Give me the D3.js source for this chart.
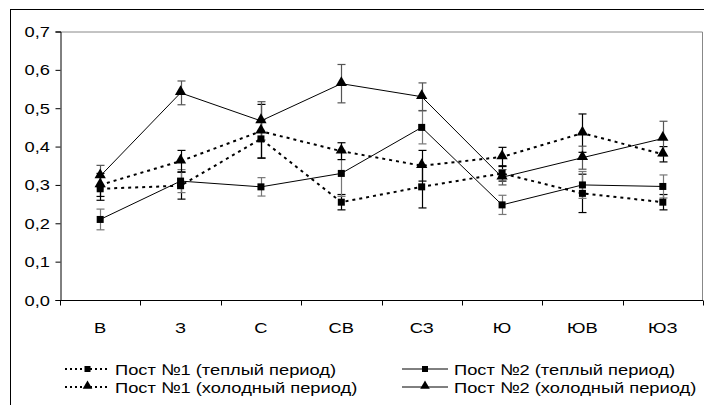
<!DOCTYPE html>
<html>
<head>
<meta charset="utf-8">
<script src="https://cdn.jsdelivr.net/npm/d3@7"></script>
<style>
  body { margin: 0; background: #fff; }
  text { font-family: "Liberation Sans", Arial, sans-serif; font-size: 15.5px; fill: #000; }
</style>
</head>
<body>
<div id="chart"></div>
<script>
// Categories (wind directions) and tick values
var categories = ["В", "З", "С", "СВ", "СЗ", "Ю", "ЮВ", "ЮЗ"];
var yTicks = [0, 0.1, 0.2, 0.3, 0.4, 0.5, 0.6, 0.7];

// Series values and error bar half-lengths
var post1Warm = [0.29, 0.298, 0.42, 0.255, 0.295, 0.33, 0.278, 0.255];
var post1WarmErr = [0.03, 0.035, 0.05, 0.02, 0.055, 0.02, 0.05, 0.02];
var post1Cold = [0.30, 0.362, 0.44, 0.388, 0.35, 0.373, 0.435, 0.38];
var post1ColdErr = [0.03, 0.028, 0.07, 0.022, 0.04, 0.025, 0.05, 0.02];
var post2Warm = [0.21, 0.31, 0.295, 0.33, 0.45, 0.248, 0.30, 0.296];
var post2WarmErr = [0.027, 0.03, 0.024, 0.06, 0.043, 0.025, 0.035, 0.03];
var post2Cold = [0.323, 0.54, 0.467, 0.564, 0.53, 0.32, 0.371, 0.421];
var post2ColdErr = [0.028, 0.031, 0.05, 0.05, 0.036, 0.02, 0.03, 0.045];

var seriesNames = [
  "Пост №1 (теплый период)",
  "Пост №2 (теплый период)",
  "Пост №1 (холодный период)",
  "Пост №2 (холодный период)"
];

var series = [
  { name: seriesNames[0], values: post1Warm, err: post1WarmErr, marker: "square", dotted: true, errColor: "#000" },
  { name: seriesNames[1], values: post2Warm, err: post2WarmErr, marker: "square", dotted: false, errColor: "#777" },
  { name: seriesNames[2], values: post1Cold, err: post1ColdErr, marker: "triangle", dotted: true, errColor: "#000" },
  { name: seriesNames[3], values: post2Cold, err: post2ColdErr, marker: "triangle", dotted: false, errColor: "#555" }
];

var W = 704, H = 405;
var margin = { top: 31.5, right: 1, bottom: 105, left: 60 };
var width = W - margin.left - margin.right;
var height = H - margin.top - margin.bottom;
var stretch = 1.18; // text in the picture is a bit wider than it is tall

var svg = d3.select("#chart")
  .append("svg")
  .attr("width", W)
  .attr("height", H);

// stretched text helper
function label(sel, txt, px, py, anchor) {
  return sel.append("text")
    .attr("transform", "translate(" + px + "," + py + ") scale(" + stretch + ",1)")
    .attr("text-anchor", anchor || "start")
    .text(txt);
}

// Outer chart frame
svg.append("rect")
  .attr("x", 10.5).attr("y", 9.5)
  .attr("width", W + 20).attr("height", H + 20)
  .attr("fill", "none").attr("stroke", "#000");

var g = svg.append("g")
  .attr("transform", "translate(" + margin.left + "," + margin.top + ")");

var x = d3.scaleBand().domain(categories).range([0, width]).padding(0);
var y = d3.scaleLinear().domain([0, 0.7]).range([height, 0]);

var fmt = d3.formatLocale({ decimal: ",", thousands: " ", grouping: [3], currency: ["", ""] }).format(".1f");

// Plot area border (top and right in grey)
g.append("path")
  .attr("d", "M0,0.5H" + (width - 0.5) + "V" + height)
  .attr("fill", "none").attr("stroke", "#888");

// Y axis
var yAxis = g.append("g")
  .attr("transform", "translate(0.5,0)")
  .call(d3.axisLeft(y).tickValues(yTicks).tickFormat("").tickSize(5));
yAxis.select(".domain").attr("stroke", "#000");
yTicks.forEach(function (t) {
  label(g, fmt(t), -10, y(t) + 5.5, "end");
});

// X axis: ticks at category boundaries, labels centered
var xAxis = g.append("g")
  .attr("transform", "translate(0," + (height + 0.5) + ")");
xAxis.append("line")
  .attr("x1", 0).attr("x2", width)
  .attr("stroke", "#000");
xAxis.selectAll(".xtick")
  .data(categories.concat(["end"]))
  .enter().append("line")
  .attr("class", "xtick")
  .attr("x1", function (d, i) { return Math.round(i * x.bandwidth()) + 0.5; })
  .attr("x2", function (d, i) { return Math.round(i * x.bandwidth()) + 0.5; })
  .attr("y1", 0).attr("y2", 5)
  .attr("stroke", "#000");
categories.forEach(function (c) {
  label(xAxis, c, x(c) + x.bandwidth() / 2, 32, "middle");
});

function cx(i) { return x(categories[i]) + x.bandwidth() / 2; }

// Error bars
series.forEach(function (s) {
  var eb = g.append("g").attr("stroke", s.errColor).attr("stroke-width", 1.2);
  s.values.forEach(function (v, i) {
    var xc = Math.round(cx(i)) + 0.5;
    var y1 = y(v + s.err[i]), y2 = y(v - s.err[i]);
    eb.append("line").attr("x1", xc).attr("x2", xc).attr("y1", y1).attr("y2", y2);
    eb.append("line").attr("x1", xc - 4).attr("x2", xc + 4).attr("y1", y1).attr("y2", y1);
    eb.append("line").attr("x1", xc - 4).attr("x2", xc + 4).attr("y1", y2).attr("y2", y2);
  });
});

var line = d3.line()
  .x(function (d, i) { return cx(i); })
  .y(function (d) { return y(d); });

// Lines
series.forEach(function (s) {
  g.append("path")
    .datum(s.values)
    .attr("d", line)
    .attr("fill", "none")
    .attr("stroke", "#000")
    .attr("stroke-width", s.dotted ? 2 : 1)
    .attr("stroke-dasharray", s.dotted ? "3,4" : null);
});

var triangle = d3.symbol().type(d3.symbolTriangle).size(55);

function drawMarker(sel, type, px, py) {
  if (type === "square") {
    sel.append("rect")
      .attr("x", px - 3.5).attr("y", py - 3.5)
      .attr("width", 7).attr("height", 7)
      .attr("fill", "#000");
  } else {
    sel.append("path")
      .attr("d", triangle())
      .attr("transform", "translate(" + px + "," + (py - 1) + ")")
      .attr("fill", "#000");
  }
}

// Markers
series.forEach(function (s) {
  var mg = g.append("g");
  s.values.forEach(function (v, i) {
    drawMarker(mg, s.marker, cx(i), y(v));
  });
});

// Legend
var legendPos = [
  { x1: 65, x2: 110, tx: 115, y: 369 },
  { x1: 402, x2: 448, tx: 454, y: 369 },
  { x1: 65, x2: 110, tx: 115, y: 387 },
  { x1: 402, x2: 448, tx: 454, y: 387 }
];

series.forEach(function (s, i) {
  var p = legendPos[i];
  var lg = svg.append("g");
  lg.append("line")
    .attr("x1", p.x1).attr("x2", p.x2)
    .attr("y1", p.y).attr("y2", p.y)
    .attr("stroke", "#000")
    .attr("stroke-width", s.dotted ? 2 : 1)
    .attr("stroke-dasharray", s.dotted ? "2,3" : null);
  if (s.marker === "square") {
    lg.append("rect")
      .attr("x", (p.x1 + p.x2) / 2 - 3).attr("y", p.y - 3)
      .attr("width", 6).attr("height", 6)
      .attr("fill", "#000");
  } else {
    lg.append("path")
      .attr("d", d3.symbol().type(d3.symbolTriangle).size(40)())
      .attr("transform", "translate(" + ((p.x1 + p.x2) / 2) + "," + (p.y - 1) + ")")
      .attr("fill", "#000");
  }
  label(lg, s.name, p.tx, p.y + 5.5, "start");
});
</script>
</body>
</html>
